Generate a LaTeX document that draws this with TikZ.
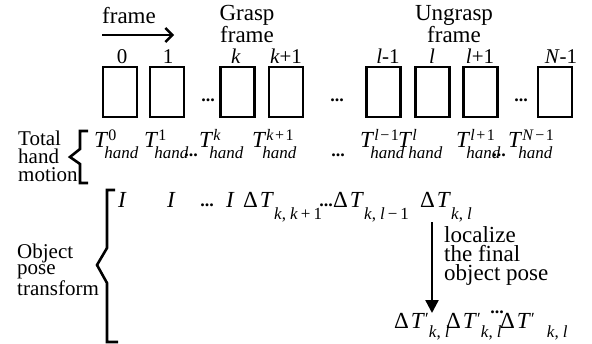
\documentclass[tikz,border=0pt]{standalone}
\usepackage{fontspec}
\setmainfont{Liberation Serif}
\usetikzlibrary{arrows.meta}

% font size helper: size and baseline skip in pt
\newcommand\fsz[2]{\fontsize{#1}{#2}\selectfont}
\newcommand\scr{\fsz{17}{17}}
% T with superscript #1 and subscript "hand"
\newcommand\hterm[1]{\textit{T}\rlap{\raisebox{7pt}{\fsz{16}{16}#1}}\kern-4pt\raisebox{-11pt}{\scr\textit{hand}}}
% Delta T with subscript #1
\newcommand\dterm[1]{\symbol{"0394}\kern2pt\textit{T}\kern0pt\raisebox{-12pt}{\scr #1}}
% Delta T-prime with subscript #1, extra gap #2
\newcommand\dpterm[2]{\symbol{"0394}\kern2pt\textit{T}\raisebox{4pt}{\scr\symbol{"2032}}\kern#2\raisebox{-9pt}{\scr #1}}
\newcommand\mi{\kern3pt\symbol{"2212}\kern3pt}
\newcommand\pl{\kern3pt+\kern3pt}
\newcommand\smi{\kern1.5pt\symbol{"2212}\kern1.5pt}
\newcommand\spl{\kern1.5pt+\kern1.5pt}
\newcommand\cm{,\kern4pt}

\begin{document}
\begin{tikzpicture}[x=1pt,y=-1pt,
  txt/.style={inner sep=0pt, font=\fsz{23}{23}},
  lbl/.style={inner sep=0pt, font=\fsz{21}{18}, align=left, anchor=north west},
  captxt/.style={inner sep=0pt, font=\fsz{23}{17}, align=center, anchor=north},
  num/.style={inner sep=0pt, font=\fsz{21}{21}, anchor=base},
  term/.style={inner sep=0pt, font=\fsz{23}{23}, anchor=base west},
  dots/.style={inner sep=0pt, font=\fsz{18}{18}\bfseries, anchor=base},
  fbox/.style={draw, line width=2.6pt, minimum width=34pt, minimum height=50pt, inner sep=0pt},
  brace/.style={line width=2.6pt, line cap=butt, line join=miter},
  arr/.style={line width=2.4pt}
]
\useasboundingbox[fill=white] (0,0) rectangle (592,343);

% header labels
\node[txt, anchor=base west] (frm) at (102,23) {frame};
\coordinate (fa0) at (102,35);
\coordinate (fa1) at (174,35);
\draw[arr, -{Straight Barb[length=7pt, width=14pt, line width=2.4pt]}] (fa0) -- (fa1);
\node[captxt] (grasp) at (247,5) {Grasp\\frame};
\node[captxt] (ungrasp) at (454,5) {Ungrasp\\frame};

% frames
\node[fbox] (b0) at (120,92) {};
\node[fbox] (b1) at (167,92) {};
\node[fbox] (bk) at (237.5,92) {};
\node[fbox] (bk1) at (286,92) {};
\node[fbox] (bl0) at (383.5,92) {};
\node[fbox] (bl) at (432.5,92) {};
\node[fbox] (bl1) at (480.5,92) {};
\node[fbox] (bN) at (555,92) {};
\node[dots] (d1) at (208,101) {...};
\node[dots] (d2) at (337,101) {...};
\node[dots] (d3) at (521,101) {...};

% frame indices
\node[num] (n0) at (122,63) {0};
\node[num] (n1) at (168,63) {1};
\node[num] (nk) at (236,63) {\textit{k}};
\node[num] (nk1) at (286,63) {\textit{k}+1};
\node[num] (nl0) at (388,63) {\textit{l}-1};
\node[num] (nl) at (432,63) {\textit{l}};
\node[num] (nl1) at (480,63) {\textit{l}+1};
\node[num] (nN) at (561,63) {\textit{N}-1};

% total hand motion
\node[lbl] (thm) at (18,131) {Total\\hand\\motion};
\draw[brace] (88,131) -- (80,131) -- (80,149) -- (70,157) -- (80,164) -- (80,183) -- (88,183);
\node[term] (h0) at (94,147) {\hterm{0}};
\node[term] (h1) at (144,147) {\hterm{1}};
\node[dots] (hd1) at (191,156) {...};
\node[term] (hk) at (199,147) {\hterm{\textit{k}}};
\node[term] (hk1) at (252,147) {\hterm{\textit{k}\spl 1}};
\node[dots] (hd2) at (338,156) {...};
\node[term] (hl0) at (360,147) {\hterm{\textit{l}\smi 1}};
\node[term] (hl) at (398,147) {\hterm{\textit{l}}};
\node[term] (hl1) at (456,147) {\hterm{\textit{l}\spl 1}};
\node[dots] (hd3) at (499,156) {...};
\node[term] (hN) at (508,147) {\hterm{\textit{N}\smi 1}};

% object pose transform
\node[lbl, font=\fsz{21}{16}] (opt) at (17,244) {Object\\pose\\transform};
\draw[brace] (115,190) -- (107,190) -- (107,248) -- (97,265) -- (107,283) -- (107,342) -- (118,342);
\node[term] (i0) at (118,207) {\textit{I}};
\node[term] (i1) at (167,207) {\textit{I}};
\node[dots] (id) at (207,206) {...};
\node[term] (i2) at (226,207) {\textit{I}};
\node[term] (t1) at (243,207) {\dterm{\textit{k}\cm\textit{k}\pl 1}};
\node[dots] (td) at (326,206) {...};
\node[term] (t2) at (333,207) {\dterm{\textit{k}\cm\textit{l}\mi 1}};
\node[term] (t3) at (420,207) {\dterm{\textit{k}\cm\textit{l}}};

% localization step
\coordinate (va0) at (432,222);
\coordinate (va1) at (432,313);
\draw[arr, -{Triangle[length=13pt, width=13pt]}] (va0) -- (va1);
\node[lbl, font=\fsz{23}{19}] (loc) at (444,226) {localize\\the final\\object pose};

\node[term] (p1) at (394,328) {\dpterm{\textit{k}\cm\textit{l}}{0pt}};
\node[term] (p2) at (446,328) {\dpterm{\textit{k}\cm\textit{l}}{0pt}};
\node[dots] (pd) at (497,313) {...};
\node[term] (p3) at (500,328) {\dpterm{\textit{k}\cm\textit{l}}{12pt}};
\end{tikzpicture}
\end{document}
